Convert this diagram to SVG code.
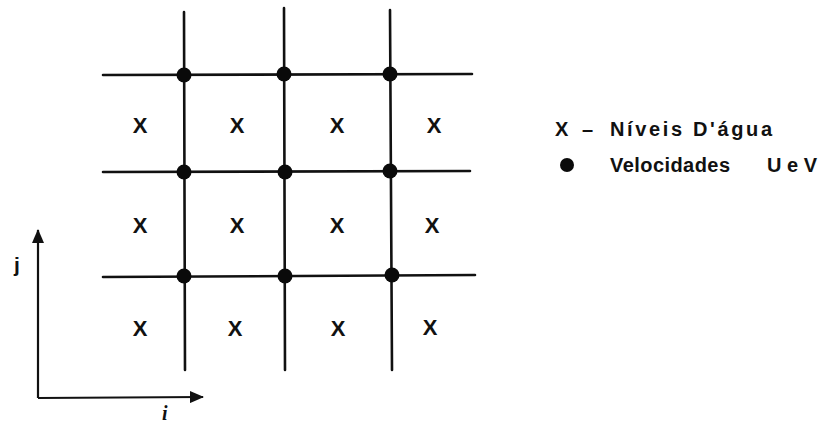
<svg xmlns="http://www.w3.org/2000/svg" width="822" height="427" viewBox="0 0 822 427">
<defs>
<style>
.ln{stroke:#111;stroke-width:2.6;fill:none;stroke-linecap:round}
.ax{stroke:#111;stroke-width:2.2;fill:none}
.dot{fill:#0a0a0a}
.x{font-family:"Liberation Sans",Arial,sans-serif;font-size:22px;font-weight:bold;fill:#111;text-anchor:middle}
.lg{font-family:"Liberation Sans",Arial,sans-serif;font-size:20px;font-weight:bold;fill:#111}
</style>
<marker id="ah" viewBox="0 0 14 12" refX="13" refY="6" markerWidth="14" markerHeight="12" orient="auto" markerUnits="userSpaceOnUse">
<path d="M0,0 L14,6 L0,12 z" fill="#111"/>
</marker>
</defs>
<rect width="822" height="427" fill="#fff"/>
<g id="grid">
<line class="ln" x1="184" y1="12" x2="185" y2="370"/>
<line class="ln" x1="284" y1="8" x2="285" y2="370"/>
<line class="ln" x1="390" y1="10" x2="392" y2="370"/>
<line class="ln" x1="103" y1="75" x2="472" y2="74"/>
<line class="ln" x1="103" y1="172" x2="470" y2="171"/>
<line class="ln" x1="103" y1="277" x2="475" y2="275"/>
</g>
<g id="velocities">
<circle class="dot" cx="184" cy="75" r="7.5"/>
<circle class="dot" cx="284" cy="74" r="7.5"/>
<circle class="dot" cx="390" cy="74" r="7.5"/>
<circle class="dot" cx="184" cy="172" r="7.5"/>
<circle class="dot" cx="285" cy="172" r="7.5"/>
<circle class="dot" cx="390" cy="171" r="7.5"/>
<circle class="dot" cx="184" cy="276" r="7.5"/>
<circle class="dot" cx="285" cy="276" r="7.5"/>
<circle class="dot" cx="392" cy="275" r="7.5"/>
</g>
<g id="levels">
<text class="x" x="140" y="133">X</text>
<text class="x" x="237" y="133">X</text>
<text class="x" x="337" y="133">X</text>
<text class="x" x="434" y="133">X</text>
<text class="x" x="140" y="233">X</text>
<text class="x" x="237" y="233">X</text>
<text class="x" x="337" y="233">X</text>
<text class="x" x="432" y="233">X</text>
<text class="x" x="140" y="336">X</text>
<text class="x" x="235" y="336">X</text>
<text class="x" x="338" y="336">X</text>
<text class="x" x="430" y="335">X</text>
</g>
<g id="axes">
<line class="ax" x1="38" y1="398" x2="38" y2="230" marker-end="url(#ah)"/>
<line class="ax" x1="38" y1="398" x2="203" y2="397" marker-end="url(#ah)"/>
<text x="14" y="272" style="font-family:'Liberation Sans',Arial,sans-serif;font-size:21px;font-weight:bold;fill:#111">j</text>
<text x="162" y="420" style="font-family:'Liberation Serif',serif;font-size:20px;font-weight:bold;font-style:italic;fill:#111">i</text>
</g>
<g id="legend">
<text class="lg" x="555" y="136">X</text>
<text class="lg" x="582" y="136">–</text>
<text class="lg" x="610" y="136" textLength="162" lengthAdjust="spacing">Níveis D'água</text>
<circle class="dot" cx="567" cy="165" r="7"/>
<text class="lg" x="610" y="172" textLength="120" lengthAdjust="spacing">Velocidades</text>
<text class="lg" x="767" y="172" textLength="50" lengthAdjust="spacing">U e V</text>
</g>
</svg>
